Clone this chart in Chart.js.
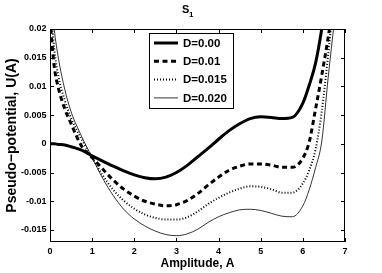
<!DOCTYPE html>
<html>
<head>
<meta charset="utf-8">
<script src="https://cdn.jsdelivr.net/npm/chart.js@4"></script>
<style>
html, body { margin: 0; padding: 0; background: #fff; }
</style>
</head>
<body>
<canvas id="myChart" width="382" height="273"></canvas>
<script>
// amplitude grid (x) and pseudo-potential U(A) for each D
const amplitude = [0, 0.1, 0.2, 0.35, 0.5, 0.75, 1, 1.25, 1.5, 1.75, 2, 2.25, 2.5, 2.75, 3, 3.25,
  3.5, 3.75, 4, 4.25, 4.5, 4.75, 5, 5.25, 5.5, 5.75, 6, 6.15, 6.3, 6.45, 6.6, 6.75];
const uD000 = [0, 0, -0.0001, -0.0002, -0.0005, -0.0011, -0.0021, -0.0030, -0.0039, -0.0047, -0.0054,
  -0.0059, -0.0061, -0.0058, -0.0050, -0.0038, -0.0023, -0.0008, 0.0008, 0.0023, 0.0035, 0.0044,
  0.0047, 0.0046, 0.0044, 0.0046, 0.0071, 0.0102, 0.0140, 0.0201, 0.0280, 0.0370];
const uD010 = [0.0215, 0.0135, 0.0097, 0.0061, 0.0035, -0.0004, -0.0024, -0.0044, -0.0063, -0.0079,
  -0.0091, -0.0100, -0.0105, -0.0108, -0.0106, -0.0099, -0.0087, -0.0072, -0.0058, -0.0046, -0.0039,
  -0.0035, -0.0035, -0.0037, -0.0041, -0.0041, -0.0025, 0.0003, 0.0060, 0.0120, 0.0185, 0.0260];
const uD015 = [0.026, 0.0166, 0.0118, 0.0076, 0.0045, 0.0008, -0.0024, -0.0055, -0.0080, -0.0099,
  -0.0113, -0.0123, -0.0129, -0.0132, -0.0132, -0.0128, -0.0118, -0.0105, -0.0094, -0.0085, -0.0078,
  -0.0074, -0.0075, -0.0079, -0.0085, -0.0085, -0.0069, -0.0046, -0.0010, 0.0057, 0.0155, 0.026];
const uD020 = [0.028, 0.0200, 0.0149, 0.0095, 0.0056, 0.0013, -0.0024, -0.0060, -0.0090, -0.0114,
  -0.0131, -0.0143, -0.0152, -0.0158, -0.0160, -0.0157, -0.0149, -0.0137, -0.0127, -0.0120, -0.0115,
  -0.0114, -0.0116, -0.0121, -0.0126, -0.0127, -0.0108, -0.0080, -0.0042, 0.0005, 0.0115, 0.0215];
const seriesLabels = ['D=0.00', 'D=0.01', 'D=0.015', 'D=0.020'];
const xTicks = [0, 1, 2, 3, 4, 5, 6, 7];
const yTicks = [-0.015, -0.01, -0.005, 0, 0.005, 0.01, 0.015, 0.02];

const narrow = "'Liberation Sans Narrow', 'Liberation Sans', sans-serif";
const sans = "'Liberation Sans', Arial, sans-serif";

function pts(ys) {
  return amplitude.map((a, i) => ({ x: a, y: ys[i] }));
}

// box round the axes with inward ticks on all four sides
const matlabBox = {
  id: 'matlabBox',
  afterDatasetsDraw(chart) {
    const { ctx, chartArea: a, scales } = chart;
    ctx.save();
    ctx.strokeStyle = '#000';
    ctx.lineWidth = 1;
    ctx.setLineDash([]);
    ctx.strokeRect(a.left + 0.5, a.top + 0.5, a.right - a.left - 1, a.bottom - a.top - 1);
    ctx.beginPath();
    xTicks.forEach(v => {
      const px = Math.round(scales.x.getPixelForValue(v)) + 0.5;
      ctx.moveTo(px, a.bottom); ctx.lineTo(px, a.bottom - 4);
      ctx.moveTo(px, a.top); ctx.lineTo(px, a.top + 4);
    });
    yTicks.forEach(v => {
      const py = Math.round(scales.y.getPixelForValue(v)) + 0.5;
      ctx.moveTo(a.left, py); ctx.lineTo(a.left + 4, py);
      ctx.moveTo(a.right, py); ctx.lineTo(a.right - 4, py);
    });
    ctx.stroke();
    ctx.restore();
  }
};

// legend box inside the axes
const legendBox = {
  id: 'legendBox',
  afterDraw(chart) {
    const ctx = chart.ctx;
    const x0 = 149, y0 = 33, w = 84, h = 75;
    ctx.save();
    ctx.fillStyle = '#fff';
    ctx.fillRect(x0, y0, w, h);
    ctx.strokeStyle = '#000';
    ctx.lineWidth = 1;
    ctx.strokeRect(x0 + 0.5, y0 + 0.5, w, h);
    ctx.font = 'bold 11.5px ' + sans;
    ctx.textBaseline = 'middle';
    ctx.fillStyle = '#000';
    chart.data.datasets.forEach((ds, i) => {
      const yy = 43 + i * 18.3;
      ctx.beginPath();
      ctx.lineWidth = ds.borderWidth;
      ctx.setLineDash(ds.borderDash || []);
      ctx.moveTo(154, yy);
      ctx.lineTo(178, yy);
      ctx.stroke();
      ctx.setLineDash([]);
      ctx.fillText(ds.label, 183, yy + 0.5);
    });
    ctx.restore();
  }
};

// title S with subscript 1
const subTitle = {
  id: 'subTitle',
  afterDraw(chart) {
    const ctx = chart.ctx;
    ctx.save();
    ctx.fillStyle = '#000';
    ctx.textBaseline = 'alphabetic';
    ctx.font = 'bold 11px ' + narrow;
    ctx.fillText('S', 182, 13);
    ctx.font = 'bold 8px ' + narrow;
    ctx.fillText('1', 189, 16.5);
    ctx.restore();
  }
};

var ctx = document.getElementById('myChart').getContext('2d');
var myChart = new Chart(ctx, {
  type: 'line',
  data: {
    datasets: [
      { label: seriesLabels[0], data: pts(uD000), borderColor: '#000', borderWidth: 3, borderDash: [] },
      { label: seriesLabels[1], data: pts(uD010), borderColor: '#000', borderWidth: 3, borderDash: [5, 3.5] },
      { label: seriesLabels[2], data: pts(uD015), borderColor: '#000', borderWidth: 2, borderDash: [1, 2] },
      { label: seriesLabels[3], data: pts(uD020), borderColor: '#000', borderWidth: 0.8, borderDash: [] }
    ]
  },
  options: {
    responsive: false,
    animation: false,
    layout: { padding: { top: 29, right: 37, left: 0, bottom: 0 } },
    elements: {
      point: { radius: 0 },
      line: { cubicInterpolationMode: 'monotone', fill: false }
    },
    datasets: { line: { clip: 0 } },
    plugins: {
      legend: { display: false },
      title: { display: false },
      tooltip: { enabled: false }
    },
    scales: {
      x: {
        type: 'linear',
        min: 0,
        max: 7,
        afterBuildTicks: s => { s.ticks = xTicks.map(v => ({ value: v })); },
        afterFit: s => { s.height = 31; },
        grid: { display: false, drawTicks: false },
        border: { display: false },
        ticks: { padding: 4, color: '#000', maxRotation: 0, font: { family: narrow, size: 9, weight: 'bold' } },
        title: {
          display: true, text: 'Amplitude, A', color: '#000',
          padding: { top: 0, bottom: 3 },
          font: { family: narrow, size: 12, weight: 'bold', lineHeight: 1 }
        }
      },
      y: {
        min: -0.0171,
        max: 0.02,
        afterBuildTicks: s => { s.ticks = yTicks.map(v => ({ value: v })); },
        afterFit: s => { s.width = 50; },
        grid: { display: false, drawTicks: false },
        border: { display: false },
        ticks: { padding: 3.5, color: '#000', font: { family: narrow, size: 9, weight: 'bold' },
          callback: v => String(v) },
        title: {
          display: true, text: 'Pseudo\u2212potential, U(A)', color: '#000',
          padding: { top: 5, bottom: 0 },
          font: { family: sans, size: 14, weight: 'bold', lineHeight: 1 }
        }
      }
    }
  },
  plugins: [matlabBox, legendBox, subTitle]
});
</script>
</body>
</html>
